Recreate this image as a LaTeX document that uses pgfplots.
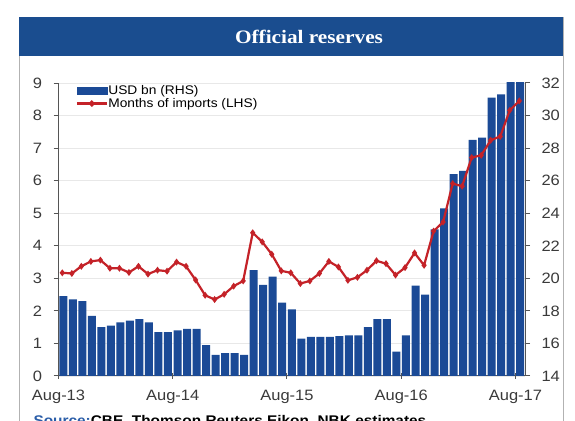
\documentclass[border=0pt]{standalone}
\usepackage{fontspec}
\setmainfont[FakeStretch=1.1]{Liberation Sans}
\newfontfamily\titlefont[FakeStretch=1.12]{Liberation Serif}
\usepackage{pgfplots}
\pgfplotsset{compat=1.18}
\usepackage{pgfplotstable}
\definecolor{barblue}{HTML}{1B4A96}
\definecolor{titleblue}{HTML}{1A4D8F}
\definecolor{linered}{HTML}{C42228}
\definecolor{axisgray}{HTML}{555555}
\definecolor{labelgray}{HTML}{3A3A3A}
\definecolor{srcblue}{HTML}{2A5DA8}

\pgfplotstableread{
x usd
0.5 18.9
1.5 18.7
2.5 18.6
3.5 17.7
4.5 17.0
5.5 17.1
6.5 17.3
7.5 17.4
8.5 17.5
9.5 17.3
10.5 16.7
11.5 16.7
12.5 16.8
13.5 16.9
14.5 16.9
15.5 15.9
16.5 15.3
17.5 15.4
18.5 15.4
19.5 15.3
20.5 20.5
21.5 19.6
22.5 20.1
23.5 18.5
24.5 18.1
25.5 16.3
26.5 16.4
27.5 16.4
28.5 16.4
29.5 16.45
30.5 16.5
31.5 16.5
32.5 17.0
33.5 17.5
34.5 17.5
35.5 15.5
36.5 16.5
37.5 19.55
38.5 19.0
39.5 23.0
40.5 24.3
41.5 26.4
42.5 26.6
43.5 28.5
44.5 28.65
45.5 31.1
46.5 31.3
47.5 36.0
48.5 36.1
}\bars

\pgfplotstableread{
x months
0.4 3.17
1.4 3.15
2.4 3.37
3.4 3.52
4.4 3.56
5.4 3.31
6.4 3.31
7.4 3.18
8.4 3.37
9.4 3.13
10.4 3.25
11.4 3.22
12.4 3.50
13.4 3.37
14.4 2.95
15.4 2.48
16.4 2.35
17.4 2.51
18.4 2.76
19.4 2.92
20.4 4.40
21.4 4.12
22.4 3.74
23.4 3.23
24.4 3.17
25.4 2.84
26.4 2.92
27.4 3.15
28.4 3.52
29.4 3.35
30.4 2.94
31.4 3.03
32.4 3.25
33.4 3.54
34.4 3.45
35.4 3.10
36.4 3.33
37.4 3.78
38.4 3.40
39.4 4.45
40.4 4.73
41.4 5.91
42.4 5.83
43.4 6.71
44.4 6.78
45.4 7.24
46.4 7.36
47.4 8.16
48.4 8.45
}\months

\begin{document}
\begin{tikzpicture}[x=1pt,y=1pt]
\useasboundingbox (0,0) rectangle (575,420);
\fill[white] (0,0) rectangle (575,420);
\draw[gray!60, line width=0.8pt] (19,-5) rectangle (563,402.5);
\fill[titleblue] (19,364) rectangle (563,402.5);
\node[text=white, font=\titlefont\bfseries\fontsize{19}{22}\selectfont] at (309,383) {Official reserves};

\begin{axis}[
  at={(58.5pt,44pt)}, anchor=south west, scale only axis,
  width=466.5pt, height=293pt,
  xmin=0, xmax=49, ymin=14, ymax=32,
  ytick={14,16,...,32},
  xtick={0,12,24,36,48},
  xticklabels={Aug-13,Aug-14,Aug-15,Aug-16,Aug-17},
  axis y line*=right, axis x line*=bottom,
  axis line style={axisgray, line width=1pt, -},
  tick style={axisgray, line width=1pt},
  major tick length=5pt,
  ytick align=outside, xtick align=center,
  ymajorgrids, grid style={gray!18, line width=0.8pt},
  /pgf/number format/assume math mode=true,
  ticklabel style={font=\fontsize{15}{17}\selectfont, text=labelgray},
  yticklabel style={xshift=8pt},
  xticklabel style={yshift=-8pt},
]
\addplot[ybar, bar width=8pt, fill=barblue, draw=none] table[x=x,y=usd]{\bars};
\end{axis}

\begin{axis}[
  at={(58.5pt,44pt)}, anchor=south west, scale only axis,
  width=466.5pt, height=293pt,
  xmin=0, xmax=49, ymin=0, ymax=9,
  ytick={0,1,...,9},
  axis y line*=left, axis x line=none,
  axis line style={axisgray, line width=1pt, -},
  tick style={axisgray, line width=1pt},
  major tick length=5pt,
  ytick align=outside,
  /pgf/number format/assume math mode=true,
  ticklabel style={font=\fontsize{15}{17}\selectfont, text=labelgray},
  yticklabel style={xshift=-8pt},
  legend style={at={(rel axis cs:0,1)}, anchor=north west, xshift=17pt, yshift=-2pt,
    draw=none, fill=none, font=\fontsize{12.5}{14}\selectfont, row sep=1pt,
    inner sep=0pt, nodes={inner sep=0.5pt, text=black}},
  legend cell align=left,
]
\addlegendimage{legend image code/.code={\fill[barblue] (0pt,-3.5pt) rectangle (30pt,3.5pt);}}
\addlegendentry{USD bn (RHS)}
\addplot[linered, line width=2.2pt, mark=diamond*, mark size=1.7pt,
  legend image code/.code={\draw[linered, line width=2.2pt] (0pt,0pt) -- (30pt,0pt); \fill[linered] (15pt,0pt) circle (1.9pt);}]
  table[x=x,y=months]{\months};
\addlegendentry{Months of imports (LHS)}
\end{axis}

\node[anchor=base west, font=\bfseries\fontsize{14}{16}\selectfont] at (30,-5) {\textcolor{srcblue}{Source:}CBE, Thomson Reuters Eikon, NBK estimates};
\end{tikzpicture}
\end{document}
